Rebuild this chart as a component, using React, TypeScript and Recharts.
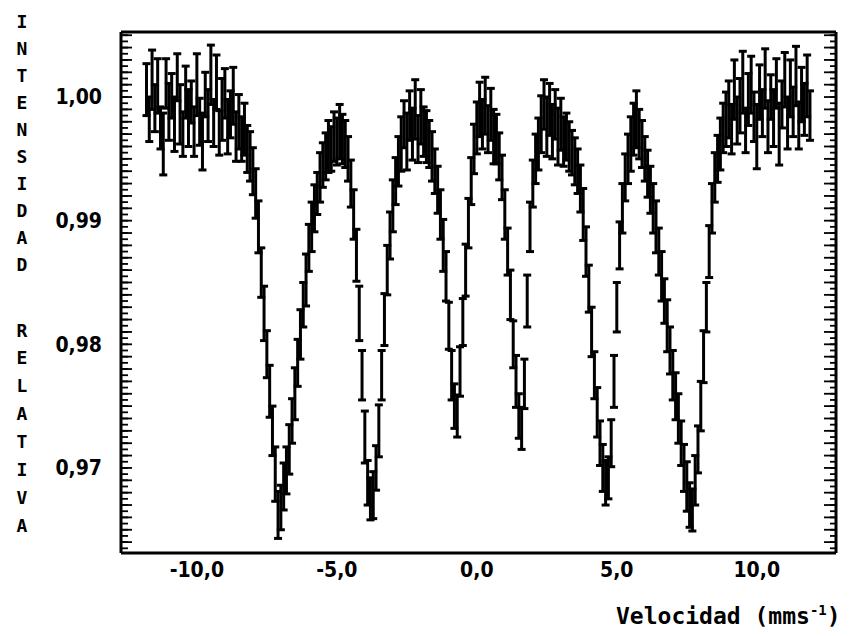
import React from 'react';
import { ScatterChart, Scatter, XAxis, YAxis, ErrorBar } from 'recharts';

// Velocity channels (mm/s)
const velocity = [
  -11.8, -11.7, -11.6, -11.5, -11.4, -11.3, -11.2, -11.1, -11.0, -10.9,
  -10.8, -10.7, -10.6, -10.5, -10.4, -10.3, -10.2, -10.1, -10.0, -9.9,
  -9.8, -9.7, -9.6, -9.5, -9.4, -9.3, -9.2, -9.1, -9.0, -8.9,
  -8.8, -8.7, -8.6, -8.5, -8.4, -8.3, -8.2, -8.1, -8.0, -7.9,
  -7.8, -7.7, -7.6, -7.5, -7.4, -7.3, -7.2, -7.1, -7.0, -6.9,
  -6.8, -6.7, -6.6, -6.5, -6.4, -6.3, -6.2, -6.1, -6.0, -5.9,
  -5.8, -5.7, -5.6, -5.5, -5.4, -5.3, -5.2, -5.1, -5.0, -4.9,
  -4.8, -4.7, -4.6, -4.5, -4.4, -4.3, -4.2, -4.1, -4.0, -3.9,
  -3.8, -3.7, -3.6, -3.5, -3.4, -3.3, -3.2, -3.1, -3.0, -2.9,
  -2.8, -2.7, -2.6, -2.5, -2.4, -2.3, -2.2, -2.1, -2.0, -1.9,
  -1.8, -1.7, -1.6, -1.5, -1.4, -1.3, -1.2, -1.1, -1.0, -0.9,
  -0.8, -0.7, -0.6, -0.5, -0.4, -0.3, -0.2, -0.1, 0.0, 0.1,
  0.2, 0.3, 0.4, 0.5, 0.6, 0.7, 0.8, 0.9, 1.0, 1.1,
  1.2, 1.3, 1.4, 1.5, 1.6, 1.7, 1.8, 1.9, 2.0, 2.1,
  2.2, 2.3, 2.4, 2.5, 2.6, 2.7, 2.8, 2.9, 3.0, 3.1,
  3.2, 3.3, 3.4, 3.5, 3.6, 3.7, 3.8, 3.9, 4.0, 4.1,
  4.2, 4.3, 4.4, 4.5, 4.6, 4.7, 4.8, 4.9, 5.0, 5.1,
  5.2, 5.3, 5.4, 5.5, 5.6, 5.7, 5.8, 5.9, 6.0, 6.1,
  6.2, 6.3, 6.4, 6.5, 6.6, 6.7, 6.8, 6.9, 7.0, 7.1,
  7.2, 7.3, 7.4, 7.5, 7.6, 7.7, 7.8, 7.9, 8.0, 8.1,
  8.2, 8.3, 8.4, 8.5, 8.6, 8.7, 8.8, 8.9, 9.0, 9.1,
  9.2, 9.3, 9.4, 9.5, 9.6, 9.7, 9.8, 9.9, 10.0, 10.1,
  10.2, 10.3, 10.4, 10.5, 10.6, 10.7, 10.8, 10.9, 11.0, 11.1,
  11.2, 11.3, 11.4, 11.5, 11.6, 11.7, 11.8, 11.9,
];

// Relative intensity per channel
const intensity = [
  1.0006, 0.9982, 1.0014, 0.9991, 1.0009, 0.9975, 0.9962, 1.0011, 0.9988, 1.0001,
  0.9978, 1.0016, 0.9986, 0.9970, 1.0004, 0.9983, 0.9996, 0.9972, 1.0010, 0.9980,
  0.9964, 1.0002, 0.9985, 1.0018, 0.9979, 1.0012, 0.9971, 0.9990, 1.0003, 0.9976,
  0.9986, 1.0001, 0.9968, 0.9980, 0.9966, 0.9974, 0.9958, 0.9952, 0.9940, 0.9922,
  0.9895, 0.9858, 0.9825, 0.9792, 0.9762, 0.9730, 0.9695, 0.9662, 0.9668, 0.9685,
  0.9698, 0.9715, 0.9738, 0.9760, 0.9785, 0.9808, 0.9832, 0.9852, 0.9878, 0.9895,
  0.9910, 0.9922, 0.9935, 0.9945, 0.9952, 0.9960, 0.9958, 0.9968, 0.9964, 0.9972,
  0.9966, 0.9962, 0.9950, 0.9930, 0.9905, 0.9872, 0.9825, 0.9775, 0.9725, 0.9688,
  0.9675, 0.9678, 0.9700, 0.9730, 0.9775, 0.9820, 0.9860, 0.9888, 0.9912, 0.9932,
  0.9948, 0.9962, 0.9978, 0.9964, 0.9985, 0.9970, 0.9990, 0.9966, 0.9984, 0.9972,
  0.9968, 0.9962, 0.9952, 0.9940, 0.9925, 0.9905, 0.9880, 0.9855, 0.9815, 0.9775,
  0.9750, 0.9742, 0.9778, 0.9818, 0.9860, 0.9898, 0.9932, 0.9958, 0.9975, 0.9990,
  0.9978, 0.9993, 0.9974, 0.9986, 0.9968, 0.9966, 0.9952, 0.9935, 0.9905, 0.9875,
  0.9840, 0.9800, 0.9770, 0.9742, 0.9732, 0.9768, 0.9835, 0.9895, 0.9930, 0.9950,
  0.9962, 0.9978, 0.9994, 0.9976, 0.9990, 0.9972, 0.9986, 0.9968, 0.9978, 0.9964,
  0.9968, 0.9960, 0.9955, 0.9948, 0.9940, 0.9926, 0.9905, 0.9875, 0.9845, 0.9810,
  0.9775, 0.9745, 0.9720, 0.9700, 0.9688, 0.9692, 0.9720, 0.9770, 0.9830, 0.9880,
  0.9910, 0.9935, 0.9950, 0.9962, 0.9974, 0.9982, 0.9970, 0.9962, 0.9950, 0.9938,
  0.9925, 0.9910, 0.9895, 0.9875, 0.9855, 0.9835, 0.9815, 0.9795, 0.9775, 0.9758,
  0.9740, 0.9720, 0.9700, 0.9685, 0.9670, 0.9666, 0.9690, 0.9715, 0.9750, 0.9790,
  0.9830, 0.9875, 0.9910, 0.9935, 0.9950, 0.9962, 0.9975, 0.9982, 0.9990, 0.9974,
  1.0006, 0.9981, 0.9993, 1.0012, 0.9973, 0.9998, 1.0010, 0.9984, 0.9968, 1.0004,
  0.9987, 1.0015, 0.9976, 1.0000, 0.9983, 1.0011, 0.9970, 0.9994, 1.0014, 0.9979,
  1.0007, 0.9988, 1.0017, 0.9977, 1.0002, 0.9990, 1.0009, 0.9985,
];

// Half-length of each error bar, in units of 1e-4
const uncertaintyE4 = [
  21, 18, 24, 19, 22, 17, 25, 20, 23, 18,
  22, 19, 24, 18, 21, 23, 17, 20, 25, 19,
  23, 18, 21, 24, 19, 22, 18, 25, 20, 22,
  19, 23, 20, 22, 18, 21, 19, 20, 19, 20,
  21, 20, 22, 19, 21, 20, 22, 19, 18, 19,
  19, 20, 18, 21, 19, 20, 18, 21, 19, 20,
  19, 17, 20, 18, 19, 21, 18, 20, 19, 22,
  20, 19, 18, 19, 20, 21, 22, 20, 21, 18,
  17, 19, 18, 21, 20, 21, 20, 19, 21, 19,
  20, 22, 19, 23, 20, 21, 24, 19, 22, 20,
  21, 19, 20, 18, 19, 20, 21, 20, 19, 20,
  18, 17, 20, 19, 21, 20, 19, 20, 21, 22,
  20, 23, 19, 21, 22, 20, 19, 18, 20, 19,
  20, 19, 21, 18, 17, 20, 21, 20, 19, 20,
  21, 23, 20, 24, 21, 22, 20, 23, 21, 20,
  19, 20, 18, 19, 18, 19, 21, 20, 19, 20,
  19, 20, 18, 19, 18, 17, 19, 21, 20, 19,
  20, 19, 20, 22, 21, 23, 20, 19, 18, 19,
  19, 20, 21, 19, 20, 18, 21, 19, 20, 19,
  20, 18, 19, 20, 18, 17, 20, 19, 20, 21,
  20, 21, 20, 20, 19, 21, 20, 22, 23, 20,
  24, 19, 22, 25, 18, 21, 23, 20, 26, 22,
  19, 24, 21, 18, 23, 20, 25, 19, 22, 21,
  23, 20, 24, 19, 22, 21, 25, 20,
];

const xTickValues = [-10, -5, 0, 5, 10];
const xTickLabels = ['-10,0', '-5,0', '0,0', '5,0', '10,0'];
const yTickValues = [1.0, 0.99, 0.98, 0.97];
const yTickLabels = ['1,00', '0,99', '0,98', '0,97'];

const yTitleTop = 'INTENSIDAD';
const yTitleBottom = 'RELATIVA';
const xTitleMain = 'Velocidad (mms';
const xTitleSup = '-1';
const xTitleEnd = ')';

const X_DOMAIN: [number, number] = [-12.71, 12.83];
const Y_DOMAIN: [number, number] = [0.96312, 1.00526];

const spectrum = velocity.map((v, i) => ({
  v,
  I: intensity[i],
  err: uncertaintyE4[i] / 10000,
}));

// tick grids for the inside tick marks
const xMinorTicks: number[] = [];
for (let k = -50; k <= 51; k++) xMinorTicks.push(Math.round(k * 25) / 100);
const xMidTicks: number[] = [];
for (let k = -12; k <= 12; k++) xMidTicks.push(k);
const yMinorTicks: number[] = [];
for (let k = 1927; k <= 2010; k++) yMinorTicks.push(Math.round(k * 5) / 10000);
const yMidTicks: number[] = [];
for (let k = 964; k <= 1005; k++) yMidTicks.push(k / 1000);

const labelFont = "'Liberation Sans Narrow', 'DejaVu Sans Condensed', 'DejaVu Sans', sans-serif";
const monoFont = "'DejaVu Sans Mono', monospace";

const near = (a: number, b: number) => Math.abs(a - b) < 1e-7;
const fmtX = (v: number) => {
  const i = xTickValues.findIndex((t) => near(t, v));
  return i >= 0 ? xTickLabels[i] : '';
};
const fmtY = (v: number) => {
  const i = yTickValues.findIndex((t) => near(t, v));
  return i >= 0 ? yTickLabels[i] : '';
};
const fmtNone = () => '';

const tickStroke = { stroke: '#000', strokeWidth: 1.8 };
const frame = { stroke: '#000', strokeWidth: 3 };
const labelStyle = { fontFamily: labelFont, fontWeight: 'bold', fontSize: 21, fill: '#000' };

const NoMarker = () => <g />;

export default function App() {
  const W = 848;
  const H = 620;
  const inner = { mirror: true, interval: 0 as const, tickFormatter: fmtNone, tickLine: tickStroke, axisLine: false, allowDataOverflow: true, type: 'number' as const };
  return (
    <div style={{ position: 'relative', width: W, height: H }}>
      <ScatterChart width={W} height={H} margin={{ top: 24, right: 20, bottom: 35, left: 0 }}>
        {/* bottom frame + labels */}
        <XAxis
          xAxisId="bottom"
          dataKey="v"
          type="number"
          domain={X_DOMAIN}
          allowDataOverflow
          ticks={xTickValues}
          interval={0}
          tickSize={0}
          tickMargin={9}
          tickLine={false}
          tickFormatter={fmtX}
          tick={labelStyle}
          axisLine={frame}
          height={40}
        />
        <XAxis xAxisId="bottomMinor" {...inner} domain={X_DOMAIN} ticks={xMinorTicks} tickSize={5} height={1} />
        <XAxis xAxisId="bottomMid" {...inner} domain={X_DOMAIN} ticks={xMidTicks} tickSize={8} height={1} />
        <XAxis xAxisId="bottomMajor" {...inner} domain={X_DOMAIN} ticks={xTickValues} tickSize={12} height={1} />
        {/* top frame with inward ticks */}
        <XAxis xAxisId="top" orientation="top" {...inner} domain={X_DOMAIN} ticks={xMinorTicks} tickSize={5} axisLine={frame} height={1} />
        <XAxis xAxisId="topMid" orientation="top" {...inner} domain={X_DOMAIN} ticks={xMidTicks} tickSize={8} height={1} />
        {/* left frame + labels */}
        <YAxis
          yAxisId="left"
          dataKey="I"
          type="number"
          domain={Y_DOMAIN}
          allowDataOverflow
          ticks={yTickValues}
          interval={0}
          tickSize={0}
          tickMargin={19}
          tickLine={false}
          tickFormatter={fmtY}
          tick={labelStyle}
          axisLine={frame}
          width={113}
        />
        <YAxis yAxisId="leftMinor" {...inner} domain={Y_DOMAIN} ticks={yMinorTicks} tickSize={6} width={1} />
        <YAxis yAxisId="leftMid" {...inner} domain={Y_DOMAIN} ticks={yMidTicks} tickSize={11} width={1} />
        {/* right frame with inward ticks */}
        <YAxis yAxisId="right" orientation="right" {...inner} domain={Y_DOMAIN} ticks={yMinorTicks} tickSize={6} axisLine={frame} width={1} />
        <YAxis yAxisId="rightMid" orientation="right" {...inner} domain={Y_DOMAIN} ticks={yMidTicks} tickSize={11} width={1} />
        <Scatter
          xAxisId="bottom"
          yAxisId="left"
          data={spectrum}
          fill="#000"
          shape={NoMarker}
          isAnimationActive={false}
        >
          <ErrorBar
            dataKey="err"
            direction="y"
            width={4}
            stroke="#000"
            strokeWidth={3}
            isAnimationActive={false}
          />
        </Scatter>
      </ScatterChart>
      <svg
        width={W}
        height={H}
        style={{ position: 'absolute', left: 0, top: 0, pointerEvents: 'none', overflow: 'visible' }}
      >
        <g fontFamily={monoFont} fontWeight="bold" fontSize={18} fill="#000" textAnchor="middle">
          {yTitleTop.split('').map((ch, i) => (
            <text key={'t' + i} x={14} y={13 + i * 27.1} dominantBaseline="central">
              {ch}
            </text>
          ))}
          {yTitleBottom.split('').map((ch, i) => (
            <text key={'b' + i} x={14} y={322 + i * 27.9} dominantBaseline="central">
              {ch}
            </text>
          ))}
        </g>
        <text x={608} y={616} fontFamily={monoFont} fontWeight="bold" fontSize={23} fill="#000">
          {xTitleMain}
          <tspan fontSize={14} dy={-9}>
            {xTitleSup}
          </tspan>
          <tspan dy={9}>{xTitleEnd}</tspan>
        </text>
      </svg>
    </div>
  );
}
